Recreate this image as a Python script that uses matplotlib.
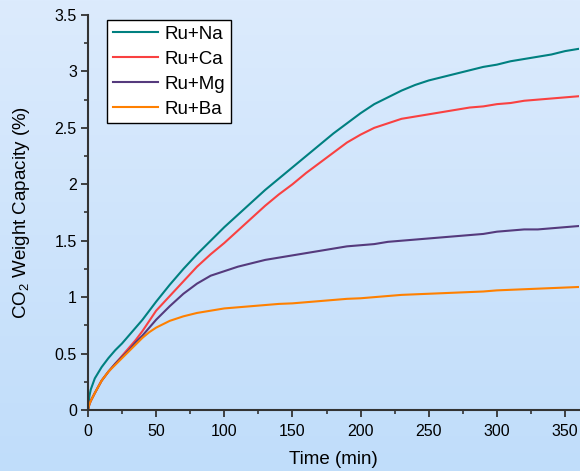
import numpy as np
import matplotlib
matplotlib.use("Agg")
import matplotlib.pyplot as plt
from matplotlib.ticker import MultipleLocator, FuncFormatter

plt.rcParams['font.family'] = ['Liberation Sans', 'DejaVu Sans']
plt.rcParams['mathtext.fontset'] = 'custom'
plt.rcParams['mathtext.rm'] = 'Liberation Sans'
plt.rcParams['mathtext.it'] = 'Liberation Sans:italic'
plt.rcParams['mathtext.default'] = 'regular'

# ---- data ----
time_min = [0, 1, 2, 5, 10, 15, 20, 25, 30, 35, 40, 45, 50, 60, 70, 80, 90,
            100, 110, 120, 130, 140, 150, 160, 170, 180, 190, 200, 210, 220,
            230, 240, 250, 260, 270, 280, 290, 300, 310, 320, 330, 340, 350, 360]
ru_na = [0, 0.12, 0.18, 0.28, 0.38, 0.46, 0.53, 0.59, 0.66, 0.73, 0.80, 0.88,
         0.96, 1.11, 1.25, 1.38, 1.50, 1.62, 1.73, 1.84, 1.95, 2.05, 2.15,
         2.25, 2.35, 2.45, 2.54, 2.63, 2.71, 2.77, 2.83, 2.88, 2.92, 2.95,
         2.98, 3.01, 3.04, 3.06, 3.09, 3.11, 3.13, 3.15, 3.18, 3.20]
ru_ca = [0, 0.05, 0.08, 0.15, 0.26, 0.34, 0.41, 0.48, 0.55, 0.62, 0.70, 0.79,
         0.88, 1.01, 1.14, 1.27, 1.38, 1.48, 1.59, 1.70, 1.81, 1.91, 2.00,
         2.10, 2.19, 2.28, 2.37, 2.44, 2.50, 2.54, 2.58, 2.60, 2.62, 2.64,
         2.66, 2.68, 2.69, 2.71, 2.72, 2.74, 2.75, 2.76, 2.77, 2.78]
ru_mg = [0, 0.05, 0.08, 0.15, 0.26, 0.34, 0.41, 0.47, 0.53, 0.60, 0.66, 0.73,
         0.80, 0.92, 1.03, 1.12, 1.19, 1.23, 1.27, 1.30, 1.33, 1.35, 1.37,
         1.39, 1.41, 1.43, 1.45, 1.46, 1.47, 1.49, 1.50, 1.51, 1.52, 1.53,
         1.54, 1.55, 1.56, 1.58, 1.59, 1.60, 1.60, 1.61, 1.62, 1.63]
ru_ba = [0, 0.05, 0.08, 0.15, 0.26, 0.34, 0.40, 0.46, 0.52, 0.58, 0.64, 0.69,
         0.73, 0.79, 0.83, 0.86, 0.88, 0.90, 0.91, 0.92, 0.93, 0.94, 0.945,
         0.955, 0.965, 0.975, 0.985, 0.99, 1.00, 1.01, 1.02, 1.025, 1.03,
         1.035, 1.04, 1.045, 1.05, 1.06, 1.065, 1.07, 1.075, 1.08, 1.085, 1.09]
series_labels = ['Ru+Na', 'Ru+Ca', 'Ru+Mg', 'Ru+Ba']
series_colors = ['#008080', '#f94141', '#553a7d', '#ff8000']

fig = plt.figure(figsize=(5.8, 4.71), dpi=100)

# background gradient
bg = fig.add_axes([0, 0, 1, 1], zorder=-10)
grad = np.linspace(0, 1, 256)[:, None]
top = np.array([220, 235, 253]) / 255
bot = np.array([192, 221, 250]) / 255
img = top[None, None, :] * (1 - grad[:, :, None]) + bot[None, None, :] * grad[:, :, None]
bg.imshow(img, aspect='auto', extent=[0, 1, 0, 1])
bg.axis('off')

ax = fig.add_axes([0.1517, 0.1295, 0.8461, 0.8387])
ax.set_facecolor('none')

for vals, lab, col in zip([ru_na, ru_ca, ru_mg, ru_ba], series_labels, series_colors):
    ax.plot(time_min, vals, color=col, lw=1.5, label=lab)

ax.set_xlim(0, 360)
ax.set_ylim(0, 3.5)
ax.xaxis.set_major_locator(MultipleLocator(50))
ax.xaxis.set_minor_locator(MultipleLocator(25))
ax.yaxis.set_major_locator(MultipleLocator(0.5))
ax.yaxis.set_minor_locator(MultipleLocator(0.25))
ax.yaxis.set_major_formatter(FuncFormatter(lambda v, p: f"{v:g}"))

for s in ['top', 'right']:
    ax.spines[s].set_visible(False)
for s in ['left', 'bottom']:
    ax.spines[s].set_color('#333333')
    ax.spines[s].set_linewidth(1.5)
ax.tick_params(which='major', direction='out', length=5, width=1.3,
               color='#333333', labelsize=11.5)
ax.tick_params(axis='x', which='major', pad=5)
ax.tick_params(axis='y', which='major', pad=3)
ax.tick_params(which='minor', direction='out', length=3, width=1.2, color='#333333')

ax.set_xlabel('Time (min)', fontsize=13.5, labelpad=9)
ax.set_ylabel('CO$_2$ Weight Capacity (%)', fontsize=13.5, labelpad=16)

leg = ax.legend(loc='upper left', bbox_to_anchor=(0.039, 0.987), borderaxespad=0,
                fontsize=13.5, frameon=True, fancybox=False, edgecolor='black',
                facecolor='white', framealpha=1, handlelength=2.4,
                handletextpad=0.35, labelspacing=0.42, borderpad=0.3)
leg.get_frame().set_linewidth(1.0)

fig.savefig('out.png', dpi=100)
